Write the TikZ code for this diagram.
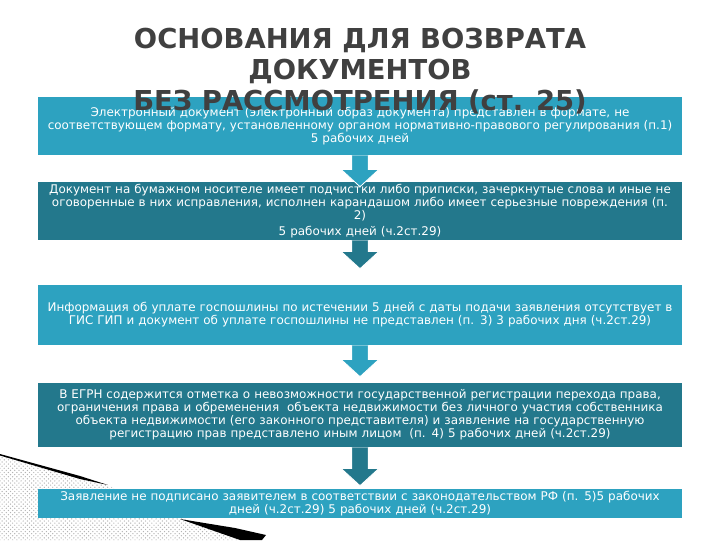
\documentclass[tikz,border=0pt]{standalone}
\usepackage{fontspec}
\setmainfont{DejaVu Sans}
\usetikzlibrary{calc,patterns,positioning}
\definecolor{lightteal}{HTML}{2DA2C0}
\definecolor{darkteal}{HTML}{23788C}
\definecolor{titleink}{HTML}{404040}
\definecolor{dotgray}{HTML}{B4B4B4}
\tikzset{
  box/.style={
    fill=lightteal,
    text=white,
    minimum width=16.1cm,
    text width=15.9cm,
    align=center,
    inner sep=0pt,
    font=\fontsize{8.5}{9.3}\selectfont
  },
  rowlight/.style={box,fill=lightteal},
  rowdark/.style={box,fill=darkteal},
  heading/.style={
    text=titleink,
    align=center,
    inner sep=0pt,
    font=\bfseries\fontsize{19.5}{21.8}\selectfont
  },
  flowedge/.style={draw=white,line width=0.6pt,line join=miter}
}
% down arrow from the bottom of one box towards the next one
\newcommand{\downflow}[3]{%
  \fill[#1] let \p1=(#2), \p2=(#3) in
    (\x1-0.21cm,\y1) -- (\x1-0.21cm,\y2+0.43cm) -- (\x1-0.47cm,\y2+0.43cm)
    -- (\x1,\y2) -- (\x1+0.47cm,\y2+0.43cm) -- (\x1+0.21cm,\y2+0.43cm)
    -- (\x1+0.21cm,\y1) -- cycle;
  \draw[flowedge] let \p1=(#2), \p2=(#3) in
    (\x1-0.21cm,\y1) -- (\x1-0.21cm,\y2+0.43cm) -- (\x1-0.47cm,\y2+0.43cm)
    -- (\x1,\y2) -- (\x1+0.47cm,\y2+0.43cm) -- (\x1+0.21cm,\y2+0.43cm)
    -- (\x1+0.21cm,\y1);
}
\begin{document}
\begin{tikzpicture}[x=0.025cm,y=-0.025cm]
  \useasboundingbox (0,0) rectangle (720,540);

  % slide decoration, bottom left
  \fill[pattern=crosshatch dots,pattern color=dotgray]
    (0,455) -- (107,485) -- (190,521) -- (240,540) -- (0,540) -- cycle;
  \fill[black] (0,454) -- (80,476) -- (108,485) -- (80,479) -- (0,455.5) -- cycle;
  \fill[black] (180,519) -- (235,528) -- (266,535) -- (262,540) -- (240,540) -- cycle;

  \node[rowlight,minimum height=1.45cm] (ground1) at (360,126)
    {Электронный документ (электронный образ документа) представлен в формате, не\\
     соответствующем формату, установленному органом нормативно-правового регулирования (п.1)\\
     5 рабочих дней};

  \node[rowdark,minimum height=1.45cm] (ground2) at (360,211)
    {Документ на бумажном носителе имеет подчистки либо приписки, зачеркнутые слова и иные не\\
     оговоренные в них исправления, исполнен карандашом либо имеет серьезные повреждения (п.\\
     2)\\[2pt]
     5 рабочих дней (ч.2ст.29)};

  \node[rowlight,minimum height=1.5cm] (ground3) at (360,315)
    {Информация об уплате госпошлины по истечении 5 дней с даты подачи заявления отсутствует в\\
     ГИС ГИП и документ об уплате госпошлины не представлен (п. 3) 3 рабочих дня (ч.2ст.29)};

  \node[rowdark,minimum height=1.6cm] (ground4) at (360,415)
    {В ЕГРН содержится отметка о невозможности государственной регистрации перехода права,\\
     ограничения права и обременения\ \ объекта недвижимости без личного участия собственника\\
     объекта недвижимости (его законного представителя) и заявление на государственную\\
     регистрацию прав представлено иным лицом\ \ (п. 4) 5 рабочих дней (ч.2ст.29)};

  \node[rowlight,minimum height=0.725cm] (ground5) at (360,503.5)
    {Заявление не подписано заявителем в соответствии с законодательством РФ (п. 5)5 рабочих\\
     дней (ч.2ст.29) 5 рабочих дней (ч.2ст.29)};

  \node[heading] (title) at (360,71)
    {ОСНОВАНИЯ ДЛЯ ВОЗВРАТА\\ДОКУМЕНТОВ\\БЕЗ РАССМОТРЕНИЯ (ст. 25)};

  \downflow{lightteal}{ground1.south}{$(ground2.north)+(0,5)$}
  \downflow{darkteal}{ground2.south}{$(ground3.north)+(0,-16)$}
  \downflow{lightteal}{ground3.south}{$(ground4.north)+(0,-6)$}
  \downflow{darkteal}{ground4.south}{$(ground5.north)+(0,-3)$}

\end{tikzpicture}
\end{document}
